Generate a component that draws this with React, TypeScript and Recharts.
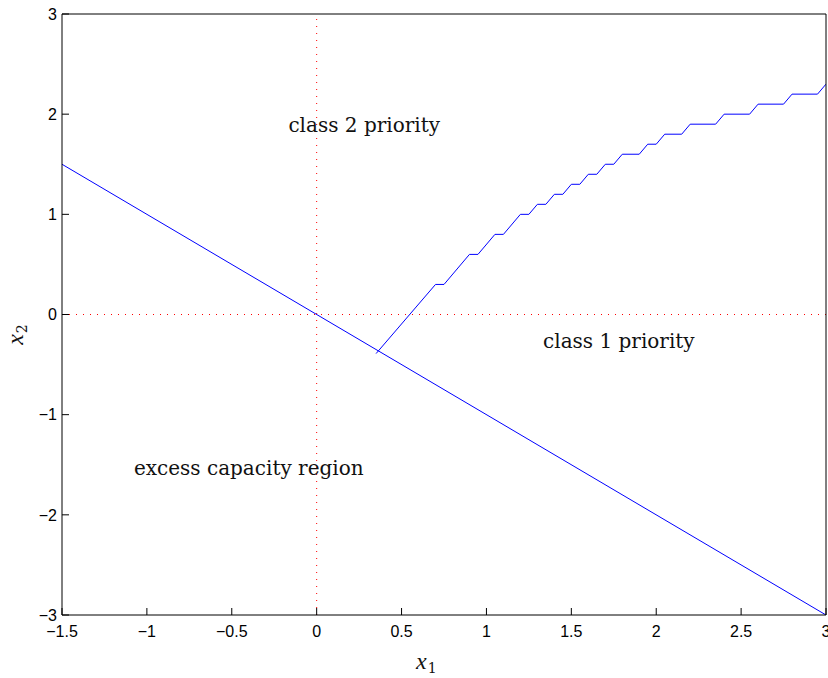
import * as React from 'react';
import { LineChart, Line, XAxis, YAxis, ReferenceLine, ReferenceDot, Label } from 'recharts';

// axis ticks
const xTicks = [-1.5, -1, -0.5, 0, 0.5, 1, 1.5, 2, 2.5, 3];
const yTicks = [-3, -2, -1, 0, 1, 2, 3];

// straight boundary x1 + x2 = 0
const boundaryX = [-1.5, 3];
const boundaryY = [1.5, -3];

// staircase switching curve
const switchX = [
  0.35, 0.7, 0.75, 0.9, 0.95, 1.05, 1.1, 1.2, 1.25, 1.3, 1.35, 1.4, 1.45, 1.5, 1.55, 1.6, 1.65,
  1.7, 1.75, 1.8, 1.9, 1.95, 2.0, 2.05, 2.15, 2.2, 2.35, 2.4, 2.55, 2.6, 2.75, 2.8, 2.95, 3.0,
];
const switchY = [
  -0.39, 0.3, 0.3, 0.6, 0.6, 0.8, 0.8, 1.0, 1.0, 1.1, 1.1, 1.2, 1.2, 1.3, 1.3, 1.4, 1.4,
  1.5, 1.5, 1.6, 1.6, 1.7, 1.7, 1.8, 1.8, 1.9, 1.9, 2.0, 2.0, 2.1, 2.1, 2.2, 2.2, 2.3,
];

// region annotations (text baseline anchored at the point)
const noteText = ['class 2 priority', 'class 1 priority', 'excess capacity region'];
const noteX = [0.28, 1.78, -0.4];
const noteY = [1.82, -0.33, -1.6];

const boundary = boundaryX.map((x, i) => ({ x, y: boundaryY[i] }));
const switching = switchX.map((x, i) => ({ x, y: switchY[i] }));

const BLUE = '#0000ff';
const RED = '#ff0000';
const serif = '"DejaVu Serif", serif';
const mathItalic = '"Liberation Serif", serif';
const sans = '"Liberation Sans", Arial, sans-serif';

const fmt = (v: number) => String(v).replace('-', '\u2212');

const NoteLabel = (text: string) => (props: any) => {
  const vb = props.viewBox || {};
  return (
    <text x={vb.x} y={vb.y} textAnchor="middle" fontFamily={serif} fontSize={20} fill="#111">
      {text}
    </text>
  );
};

const XLabel = (props: any) => {
  const vb = props.viewBox || { x: 62, y: 615, width: 764 };
  const x = vb.x + vb.width / 2 - 28;
  return (
    <text x={x} y={669} fill="#111">
      <tspan style={{ fontFamily: mathItalic, fontStyle: 'italic', fontSize: 24 }}>x</tspan>
      <tspan style={{ fontFamily: serif, fontSize: 14 }} dx={1} dy={4}>1</tspan>
    </text>
  );
};

const YLabel = (props: any) => {
  const vb = props.viewBox || { x: 62, y: 14, height: 601 };
  const cx = 23;
  const cy = vb.y + vb.height / 2 + 20;
  return (
    <text
      x={cx}
      y={cy}
      textAnchor="middle"
      transform={`rotate(-90 ${cx} ${cy})`}
      fill="#111"
    >
      <tspan style={{ fontFamily: mathItalic, fontStyle: 'italic', fontSize: 24 }}>x</tspan>
      <tspan style={{ fontFamily: serif, fontSize: 14 }} dx={1} dy={4}>2</tspan>
    </text>
  );
};

const axisStroke = { stroke: '#000', strokeWidth: 1 };

export default function App() {
  return (
    <div style={{ position: 'absolute', left: 0, top: 0, width: 828, height: 678, background: '#fff' }}>
      <LineChart width={828} height={678} margin={{ top: 13, right: 1, bottom: 62, left: 61 }}>
        <XAxis
          type="number"
          dataKey="x"
          domain={[-1.5, 3]}
          ticks={xTicks}
          interval={0}
          allowDataOverflow
          height={1}
          tickSize={-7}
          tickMargin={18}
          tickFormatter={fmt}
          axisLine={axisStroke}
          tickLine={axisStroke}
          tick={{ fill: '#000', fontSize: 16, fontFamily: sans }}
        >
          <Label content={XLabel} />
        </XAxis>
        <XAxis
          xAxisId="top"
          orientation="top"
          type="number"
          dataKey="x"
          domain={[-1.5, 3]}
          ticks={xTicks}
          interval={0}
          height={1}
          tickSize={-7}
          tick={false}
          axisLine={axisStroke}
          tickLine={axisStroke}
        />
        <YAxis
          type="number"
          domain={[-3, 3]}
          ticks={yTicks}
          interval={0}
          allowDataOverflow
          width={1}
          tickSize={-7}
          tickMargin={12}
          tickFormatter={fmt}
          axisLine={axisStroke}
          tickLine={axisStroke}
          tick={{ fill: '#000', fontSize: 16, fontFamily: sans }}
        >
          <Label content={YLabel} />
        </YAxis>
        <YAxis
          yAxisId="right"
          orientation="right"
          type="number"
          domain={[-3, 3]}
          ticks={yTicks}
          interval={0}
          width={1}
          tickSize={-7}
          tick={false}
          axisLine={axisStroke}
          tickLine={axisStroke}
        />
        <ReferenceLine x={0} stroke={RED} strokeDasharray="1 6" />
        <ReferenceLine y={0} stroke={RED} strokeDasharray="1 6" />
        <Line
          data={boundary}
          dataKey="y"
          stroke={BLUE}
          strokeWidth={1}
          dot={false}
          isAnimationActive={false}
        />
        <Line
          data={switching}
          dataKey="y"
          stroke={BLUE}
          strokeWidth={1}
          dot={false}
          isAnimationActive={false}
        />
        {noteText.map((t, i) => (
          <ReferenceDot
            key={t}
            x={noteX[i]}
            y={noteY[i]}
            r={0}
            fill="none"
            stroke="none"
            label={NoteLabel(t)}
          />
        ))}
      </LineChart>
    </div>
  );
}
